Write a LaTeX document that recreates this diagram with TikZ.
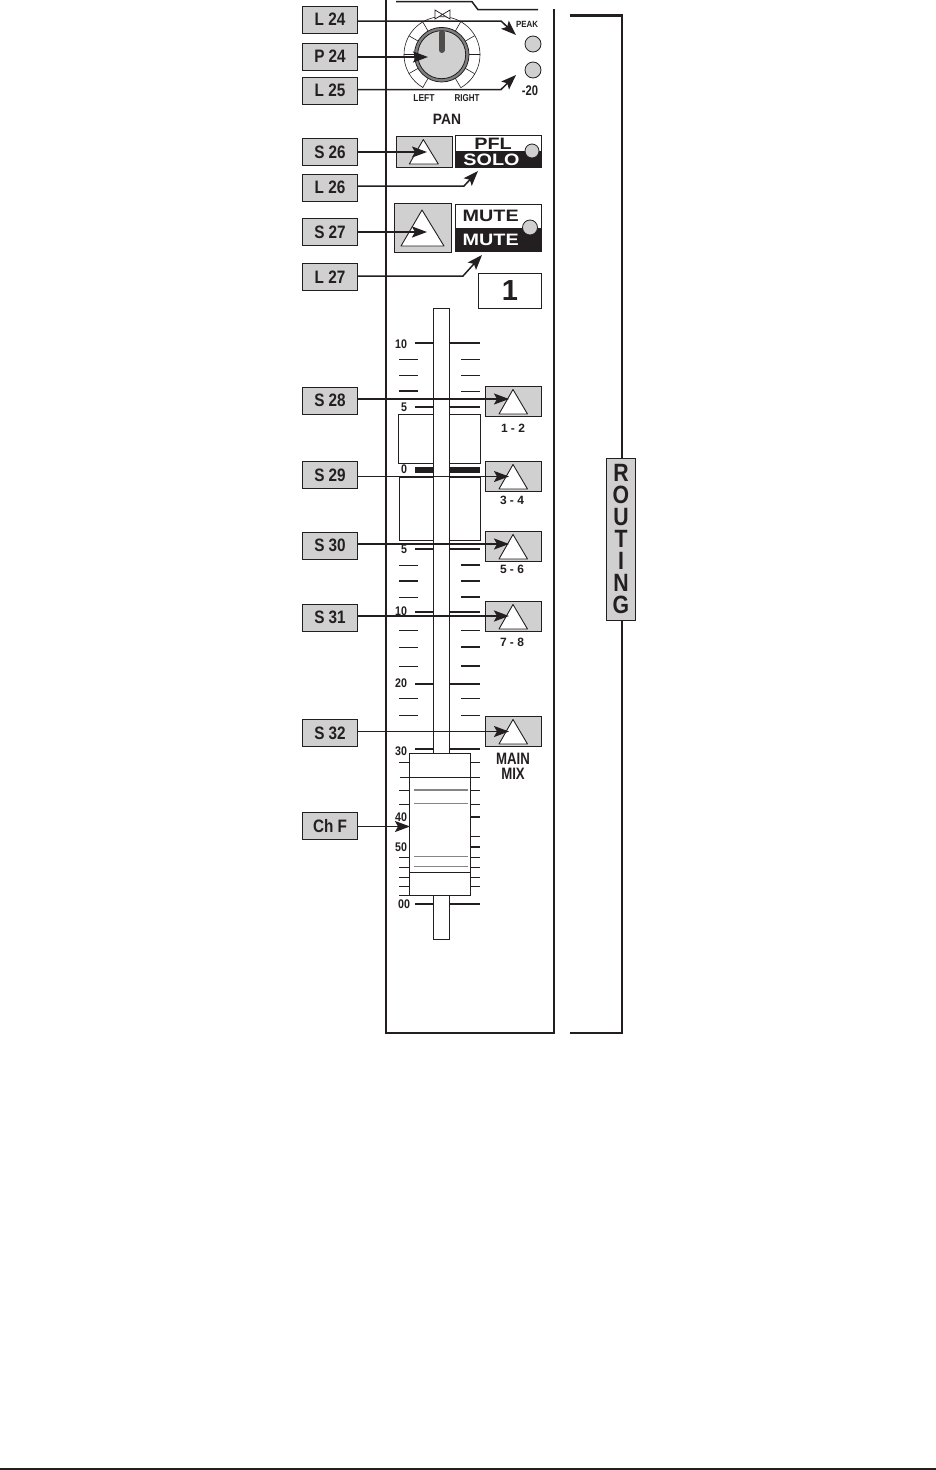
\documentclass[tikz,border=0pt]{standalone}
\usepackage{fontspec}
\setmainfont{Liberation Sans}
\usetikzlibrary{arrows.meta}
\definecolor{panelgray}{HTML}{D0D0D0}
\definecolor{ink}{HTML}{231F20}
\tikzset{
  lbl/.style={draw=ink,line width=0.9pt,fill=panelgray,minimum width=55pt,minimum height=27pt,inner sep=0pt,text=ink,font=\fontsize{18}{18}\selectfont\bfseries},
  ptr/.style={draw=ink,line width=1.5pt,-{Stealth[length=15pt,width=11pt,inset=3pt]}},
  ptrheavy/.style={ptr,line width=2.3pt},
  frameline/.style={draw=ink,line width=2.2pt},
  swbox/.style={draw=ink,line width=0.8pt,fill=panelgray},
  tri/.style={draw=ink,line width=0.9pt,fill=white,line join=round},
  led/.style={circle,draw=ink,line width=0.8pt,fill=panelgray,inner sep=0pt},
  scaletxt/.style={inner sep=0pt,text=ink,font=\fontsize{12.5}{12.5}\selectfont\bfseries},
  rt/.style={draw=ink,line width=0.9pt},
  minor/.style={draw=ink,line width=0.8pt},
  major/.style={draw=ink,line width=1.4pt},
}
\newcommand{\nrw}[1]{\scalebox{.85}[1]{#1}}
\newcommand{\wid}[1]{\scalebox{1.2}[1]{#1}}
\newcommand{\smallsw}[3]{%
  \path[swbox] (485.3,#1) rectangle (541,#1+30);
  \path[tri] (513,#1+3) -- (499,#1+27.5) -- (527.5,#1+27.5) -- cycle;
  \coordinate (#2) at (509,#3);
}
\begin{document}
\begin{tikzpicture}[x=1pt,y=-1pt]
\useasboundingbox (0,0) rectangle (936,1470);
\fill[white] (0,0) rectangle (936,1470);
% frame
\path[frameline] (386.3,0) -- (386.3,1033) -- (554,1033) -- (554,9);
\path[frameline] (570,15.5) -- (622,15.5) -- (622,1033) -- (570,1033);
\draw[ink,line width=1.5pt] (396,1.7) -- (472,1.7) -- (478,9.7) -- (538,9.7);
\draw[ink,line width=1.6pt] (0,1469) -- (936,1469);
% routing label
\node[draw=ink,line width=0.9pt,fill=panelgray,minimum width=29.5pt,minimum height=162.7pt,inner sep=0pt,align=center,text=ink,font=\fontsize{25}{22}\selectfont\bfseries] (routing) at (621,539.4) {\nrw{R}\\\nrw{O}\\\nrw{U}\\\nrw{T}\\\nrw{I}\\\nrw{N}\\\nrw{G}};
% knob
\draw[ink,line width=0.6pt] (461,87.6) arc (60:-240:38);
\foreach \a in {60,30,0,-30,-60,120,150,180,210,240}
  \draw[ink,line width=0.6pt] ({441.7+27*cos(\a)},{54.7-27*sin(\a)}) -- ({441.7+38*cos(\a)},{54.7-38*sin(\a)});
\draw[ink,line width=0.7pt,fill=white] (435,10) -- (450,19) -- (450,10) -- (435,19) -- cycle;
\fill[panelgray] (441.7,54.7) circle (27);
\draw[black!50,line width=3pt] (441.7,54.7) circle (25.6);
\draw[ink,line width=0.8pt] (441.7,54.7) circle (27.3);
\draw[ink,line width=0.8pt] (441.7,54.7) circle (24);
\draw[ink!80,line width=6pt,line cap=round] (441.7,33) -- (441.7,50);
\node[scaletxt,font=\fontsize{10}{10}\selectfont\bfseries] (tleft) at (424,98) {\nrw{LEFT}};
\node[scaletxt,font=\fontsize{10}{10}\selectfont\bfseries] (tright) at (467,98) {\scalebox{.8}[1]{RIGHT}};
\node[scaletxt,font=\fontsize{15}{15}\selectfont\bfseries] (tpan) at (447,119) {\scalebox{.92}[1]{PAN}};
\node[scaletxt,font=\fontsize{9}{9}\selectfont\bfseries] (tpeak) at (527,24) {\scalebox{.88}[1]{PEAK}};
\node[scaletxt,font=\fontsize{14}{14}\selectfont\bfseries] (tm20) at (530,91) {\scalebox{.8}[1]{-20}};
\node[led,minimum size=16pt] (ledpeak) at (533,44) {};
\node[led,minimum size=16pt] (led20) at (533,70) {};
% S26 / PFL
\path[swbox] (396.3,136.3) rectangle (452,167.5);
\path[tri] (423.3,139.5) -- (409.3,164) -- (438.3,164) -- cycle;
\draw[ink,line width=0.8pt,fill=white] (455.7,135.3) rectangle (541.7,167.5);
\fill[ink] (455.7,151) rectangle (541.7,167.5);
\node[inner sep=0pt,text=ink,font=\fontsize{16.5}{16.5}\selectfont\bfseries] (tpfl) at (493,144) {\wid{PFL}};
\node[inner sep=0pt,text=white,font=\fontsize{16.5}{16.5}\selectfont\bfseries] (tsolo) at (491.5,160) {\wid{SOLO}};
\node[led,minimum size=14pt] (ledsolo) at (532,151) {};
% S27 / MUTE
\path[swbox] (394,203.5) rectangle (451,252.5);
\path[tri] (422,210) -- (401,246) -- (444,246) -- cycle;
\draw[ink,line width=0.8pt,fill=white] (455.7,204.5) rectangle (541.7,251.5);
\fill[ink] (455.7,227.5) rectangle (541.7,251.5);
\node[inner sep=0pt,text=ink,font=\fontsize{16.5}{16.5}\selectfont\bfseries] (tmute) at (490.7,216) {\wid{MUTE}};
\node[inner sep=0pt,text=white,font=\fontsize{16.5}{16.5}\selectfont\bfseries] (tmuteb) at (490.7,240) {\wid{MUTE}};
\node[led,minimum size=15pt] (ledmute) at (530,227.5) {};
\node[draw=ink,line width=0.9pt,minimum width=63pt,minimum height=34.5pt,inner sep=0pt,text=ink,font=\fontsize{29}{29}\selectfont\bfseries] (chnum) at (510,290.8) {1};
% fader scale
\foreach \y in {359,375,630,698,715,762,790,804,857,867,877,886}
  {\draw[minor] (399,\y) -- (418,\y); \draw[minor] (461,\y) -- (480,\y);}
\foreach \y in {565,597,647,666}
  {\draw[minor] (399,\y) -- (418,\y); \draw[major] (461,\y) -- (480,\y);}
\draw[major] (399,391) -- (418,391); \draw[minor] (461,391) -- (480,391);
\draw[major] (399,581) -- (418,581); \draw[major] (461,581) -- (480,581);
\draw[minor] (461,836.7) -- (480,836.7);
\foreach \y in {343,407,549,612,684,749,817,847,904}
  {\draw[major] (415,\y) -- (480,\y);}
\draw[major] (399,895.6) -- (418,895.6);
\draw[rt,fill=white] (398.5,414.5) rectangle (480,463.5);
\draw[rt,fill=white] (399.5,477.5) rectangle (480,540);
\draw[ink,line width=5.5pt] (415,470) -- (480,470);
\draw[rt,fill=white] (433,308.5) rectangle (449,939.5);
\foreach \y/\t/\n in {344/10/a,407/5/b,469/0/c,549/5/d,611/10/e,683/20/f,751/30/g,817/40/h,847/50/i,904/00/j}
  \node[scaletxt] (scale\n) at ({\t==5||\t==0 ? 404 : 401},\y) {\nrw{\t}};
% fader cap
\draw[rt,fill=white] (409.7,753) rectangle (470.5,895);
\draw[minor] (400,777.3) -- (480,777.3);
\draw[ink!55,line width=1.6pt] (414,790) -- (468,790);
\draw[ink!55,line width=.8pt] (414,803.5) -- (468,803.5);
\draw[ink!55,line width=.8pt] (414,856.5) -- (468,856.5);
\draw[ink!55,line width=.8pt] (414,866.5) -- (468,866.5);
\draw[minor] (409.7,872.3) -- (470.5,872.3);
% small switches
\smallsw{386.5}{s28t}{399}
\smallsw{461.5}{s29t}{476.5}
\smallsw{531.5}{s30t}{544}
\smallsw{601.5}{s31t}{616}
\smallsw{716.5}{s32t}{731.5}
\node[scaletxt,font=\fontsize{12}{12}\selectfont\bfseries] (t12) at (513,428.5) {1 - 2};
\node[scaletxt,font=\fontsize{12}{12}\selectfont\bfseries] (t34) at (512,500) {3 - 4};
\node[scaletxt,font=\fontsize{12}{12}\selectfont\bfseries] (t56) at (512,569.5) {5 - 6};
\node[scaletxt,font=\fontsize{12}{12}\selectfont\bfseries] (t78) at (512,642) {7 - 8};
\node[scaletxt,font=\fontsize{16.5}{16.5}\selectfont\bfseries] (tmain) at (513,759) {\scalebox{.8}[1]{MAIN}};
\node[scaletxt,font=\fontsize{16.5}{16.5}\selectfont\bfseries] (tmix) at (513,774) {\scalebox{.8}[1]{MIX}};
% labels
\node[lbl] (l24) at (330,19.5) {\nrw{L 24}};
\node[lbl] (p24) at (330,56.5) {\nrw{P 24}};
\node[lbl] (l25) at (330,90.5) {\nrw{L 25}};
\node[lbl] (s26) at (330,152) {\nrw{S 26}};
\node[lbl] (l26) at (330,187.5) {\nrw{L 26}};
\node[lbl] (s27) at (330,232) {\nrw{S 27}};
\node[lbl] (l27) at (330,276.8) {\nrw{L 27}};
\node[lbl] (s28) at (330,400.7) {\nrw{S 28}};
\node[lbl] (s29) at (330,475.2) {\nrw{S 29}};
\node[lbl] (s30) at (330,545.5) {\nrw{S 30}};
\node[lbl] (s31) at (330,617.5) {\nrw{S 31}};
\node[lbl] (s32) at (330,733) {\nrw{S 32}};
\node[lbl] (chf) at (330,825.8) {\nrw{Ch F}};
% connector ends
\coordinate (l24end) at (516,35);
\coordinate (l25end) at (516,75);
\coordinate (p24end) at (428,57);
\coordinate (s26end) at (427,152);
\coordinate (l26end) at (478,171);
\coordinate (s27end) at (427,232);
\coordinate (l27end) at (482,255);
\coordinate (chfend) at (410,826.5);
% connectors
\draw[ptr] (l24.east |- 0,21) -- (501,21) -- (l24end);
\draw[ptr] (p24.east |- p24end) -- (p24end);
\draw[ptr] (l25.east |- 0,89.5) -- (501,89.5) -- (l25end);
\draw[ptr] (s26.east |- s26end) -- (s26end);
\draw[ptr] (l26.east |- 0,186) -- (464,186) -- (l26end);
\draw[ptrheavy] (s27.east |- s27end) -- (s27end);
\draw[ptr] (l27.east |- 0,276) -- (463,276) -- (l27end);
\draw[ptr] (s28.east |- s28t) -- (s28t);
\draw[ptr] (s29.east |- s29t) -- (s29t);
\draw[ptr] (s30.east |- s30t) -- (s30t);
\draw[ptrheavy] (s31.east |- s31t) -- (s31t);
\draw[ptr] (s32.east |- s32t) -- (s32t);
\draw[ptr] (chf.east |- chfend) -- (chfend);
\end{tikzpicture}
\end{document}
